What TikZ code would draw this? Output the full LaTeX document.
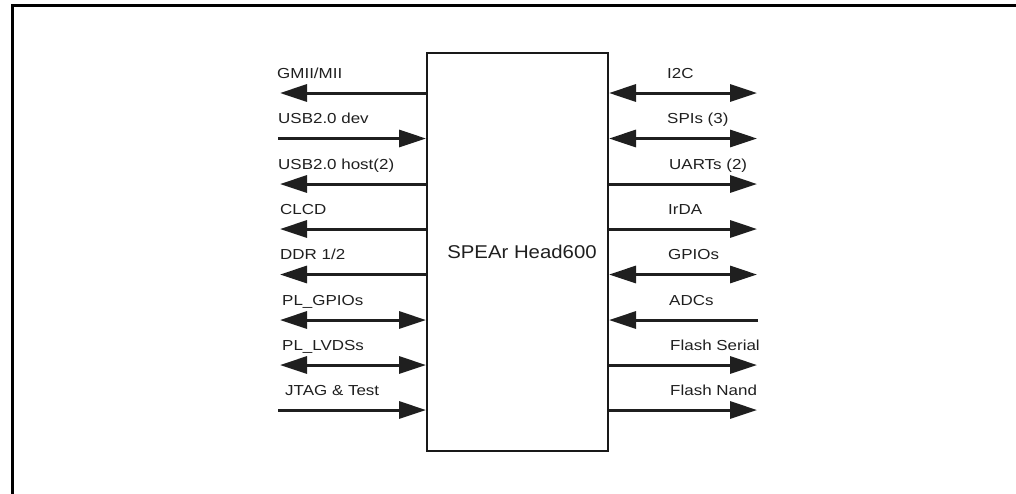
\documentclass[tikz,border=0pt]{standalone}
\usepackage{fontspec}
\setmainfont{Liberation Sans}
\newfontfamily\labfont[FakeStretch=1.17]{Liberation Sans}
\newfontfamily\titfont[FakeStretch=1.1]{Liberation Sans}
\usetikzlibrary{arrows.meta}
\begin{document}
\begin{tikzpicture}[x=1pt,y=-1pt,
  sig/.style={line width=3pt,color=black!88,-{Triangle[length=27pt,width=17pt]}},
  sigboth/.style={line width=3pt,color=black!88,{Triangle[length=27pt,width=17pt]}-{Triangle[length=27pt,width=17pt]}},
  lab/.style={anchor=base west,inner sep=0pt,font=\labfont\fontsize{14.5}{16}\selectfont,text=black!88},
  chip/.style={draw=black!90,line width=2pt,minimum width=181pt,minimum height=398pt,inner sep=0pt}]
\useasboundingbox (0,0) rectangle (1016,493);
\begin{scope}
\clip (0,0) rectangle (1016,493);
\draw[line width=2.6pt] (12.5,520) -- (12.5,5.3) -- (1040,5.3);
\end{scope}
\node[chip] (box) at (517.5,252) {};
\node[font=\titfont\fontsize{18.5}{20}\selectfont,text=black!88] (title) at (522,252) {SPEAr Head600};
% left side coordinates
\coordinate (L1) at (280,93);
\coordinate (L2) at (278,138.5);
\coordinate (L3) at (280,184);
\coordinate (L4) at (280,229);
\coordinate (L5) at (280,274.5);
\coordinate (L6) at (280,320);
\coordinate (L7) at (280,365);
\coordinate (L8) at (278,410);
% right side coordinates
\coordinate (R1) at (757,93);
\coordinate (R2) at (757,138.5);
\coordinate (R3) at (757,184);
\coordinate (R4) at (757,229);
\coordinate (R5) at (757,274.5);
\coordinate (R6) at (758,320);
\coordinate (R7) at (757,365);
\coordinate (R8) at (757,410);
% left arrows
\draw[sig] (box.west |- L1) -- (L1);
\draw[sig] (L2) -- (box.west |- L2);
\draw[sig] (box.west |- L3) -- (L3);
\draw[sig] (box.west |- L4) -- (L4);
\draw[sig] (box.west |- L5) -- (L5);
\draw[sigboth] (L6) -- (box.west |- L6);
\draw[sigboth] (L7) -- (box.west |- L7);
\draw[sig] (L8) -- (box.west |- L8);
% right arrows
\draw[sigboth] (box.east |- R1) -- (R1);
\draw[sigboth] (box.east |- R2) -- (R2);
\draw[sig] (box.east |- R3) -- (R3);
\draw[sig] (box.east |- R4) -- (R4);
\draw[sigboth] (box.east |- R5) -- (R5);
\draw[sig] (R6) -- (box.east |- R6);
\draw[sig] (box.east |- R7) -- (R7);
\draw[sig] (box.east |- R8) -- (R8);
% left labels
\node[lab] (t1) at (277,78) {GMII/MII};
\node[lab] (t2) at (278,123.5) {USB2.0 dev};
\node[lab] (t3) at (278,169) {USB2.0 host(2)};
\node[lab] (t4) at (280,214) {CLCD};
\node[lab] (t5) at (280,259.5) {DDR 1/2};
\node[lab] (t6) at (282,305) {PL\_GPIOs};
\node[lab] (t7) at (282,350) {PL\_LVDSs};
\node[lab] (t8) at (285,395) {JTAG \& Test};
% right labels
\node[lab] (u1) at (667,78) {I2C};
\node[lab] (u2) at (667,123.5) {SPIs (3)};
\node[lab] (u3) at (669,169) {UARTs (2)};
\node[lab] (u4) at (668,214) {IrDA};
\node[lab] (u5) at (668,259.5) {GPIOs};
\node[lab] (u6) at (669,305) {ADCs};
\node[lab] (u7) at (670,350) {Flash Serial};
\node[lab] (u8) at (670,395) {Flash Nand};
\end{tikzpicture}
\end{document}
